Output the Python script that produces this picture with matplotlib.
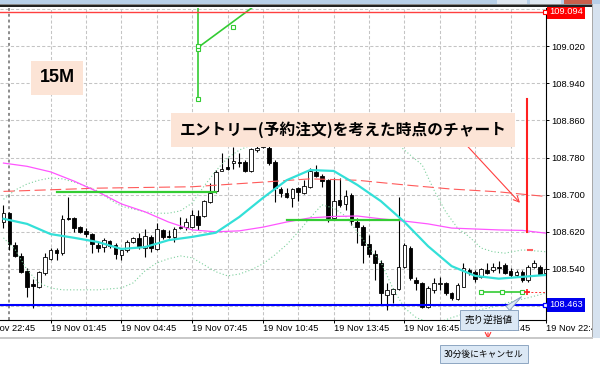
import matplotlib
matplotlib.use("Agg")
import matplotlib.pyplot as plt
import numpy as np
from matplotlib.patches import Rectangle
from matplotlib.transforms import blended_transform_factory

plt.rcParams['font.family'] = ['Liberation Sans', 'DejaVu Sans']
JP = ['Noto Sans CJK JP', 'DejaVu Sans']

# 15 minute candles, bar 0 = 19 Nov 01:45, first visible bar is -8
first_bar = -8
opens = [108.641, 108.660, 108.592, 108.568, 108.536, 108.508, 108.501, 108.531,
         108.562, 108.581, 108.574, 108.650, 108.650, 108.630, 108.622, 108.615,
         108.592, 108.587, 108.600, 108.592, 108.570, 108.581, 108.598, 108.607,
         108.585, 108.609, 108.583, 108.624, 108.611, 108.609, 108.628, 108.630,
         108.630, 108.654, 108.654, 108.684, 108.708, 108.751, 108.759, 108.768,
         108.770, 108.770, 108.751, 108.796, 108.802, 108.800, 108.770, 108.712,
         108.703, 108.693, 108.714, 108.703, 108.716, 108.749, 108.740, 108.731,
         108.650, 108.688, 108.680, 108.699, 108.641, 108.630, 108.594, 108.572,
         108.553, 108.484, 108.486, 108.497, 108.544, 108.585, 108.516, 108.510,
         108.458, 108.495, 108.508, 108.510, 108.488, 108.476, 108.501, 108.538,
         108.534, 108.523, 108.538, 108.538, 108.544, 108.549, 108.536, 108.527,
         108.534, 108.516, 108.544, 108.544, 108.531]
highs = [108.678, 108.663, 108.598, 108.574, 108.542, 108.519, 108.536, 108.574,
         108.585, 108.585, 108.656, 108.695, 108.652, 108.632, 108.628, 108.617,
         108.598, 108.607, 108.602, 108.596, 108.585, 108.602, 108.609, 108.617,
         108.626, 108.613, 108.639, 108.626, 108.624, 108.630, 108.652, 108.650,
         108.667, 108.667, 108.688, 108.725, 108.753, 108.789, 108.779, 108.802,
         108.789, 108.774, 108.800, 108.804, 108.828, 108.804, 108.774, 108.716,
         108.714, 108.714, 108.716, 108.731, 108.757, 108.764, 108.744, 108.734,
         108.736, 108.736, 108.710, 108.703, 108.650, 108.635, 108.613, 108.581,
         108.559, 108.510, 108.499, 108.695, 108.596, 108.589, 108.523, 108.512,
         108.503, 108.521, 108.523, 108.512, 108.491, 108.510, 108.553, 108.542,
         108.538, 108.542, 108.553, 108.553, 108.557, 108.553, 108.542, 108.538,
         108.538, 108.549, 108.559, 108.549, 108.544]
lows = [108.628, 108.581, 108.566, 108.531, 108.480, 108.456, 108.499, 108.527,
        108.559, 108.559, 108.570, 108.645, 108.620, 108.617, 108.609, 108.574,
        108.577, 108.577, 108.585, 108.562, 108.559, 108.577, 108.596, 108.583,
        108.566, 108.577, 108.581, 108.605, 108.607, 108.598, 108.626, 108.624,
        108.628, 108.624, 108.652, 108.682, 108.703, 108.751, 108.753, 108.755,
        108.759, 108.749, 108.749, 108.792, 108.800, 108.764, 108.684, 108.695,
        108.693, 108.673, 108.686, 108.701, 108.714, 108.738, 108.716, 108.641,
        108.645, 108.673, 108.667, 108.635, 108.596, 108.553, 108.566, 108.516,
        108.463, 108.452, 108.467, 108.495, 108.542, 108.516, 108.495, 108.456,
        108.456, 108.488, 108.495, 108.484, 108.473, 108.473, 108.501, 108.527,
        108.512, 108.521, 108.529, 108.534, 108.531, 108.529, 108.523, 108.523,
        108.512, 108.512, 108.542, 108.527, 108.527]
closes = [108.660, 108.594, 108.568, 108.534, 108.501, 108.503, 108.534, 108.566,
          108.581, 108.574, 108.648, 108.648, 108.628, 108.620, 108.615, 108.594,
          108.585, 108.602, 108.589, 108.572, 108.581, 108.598, 108.607, 108.587,
          108.611, 108.585, 108.626, 108.609, 108.609, 108.626, 108.630, 108.641,
          108.656, 108.635, 108.686, 108.703, 108.749, 108.755, 108.755, 108.772,
          108.768, 108.751, 108.798, 108.800, 108.815, 108.768, 108.714, 108.703,
          108.695, 108.712, 108.706, 108.718, 108.751, 108.740, 108.729, 108.650,
          108.686, 108.678, 108.697, 108.643, 108.630, 108.592, 108.572, 108.553,
          108.488, 108.495, 108.497, 108.544, 108.592, 108.521, 108.510, 108.458,
          108.499, 108.510, 108.510, 108.488, 108.478, 108.506, 108.542, 108.531,
          108.519, 108.540, 108.531, 108.544, 108.542, 108.531, 108.527, 108.534,
          108.516, 108.544, 108.553, 108.529, 108.540]

# moving averages, read every 4 bars
ma_bars = list(range(-8, 85, 4))
ma_fast = [108.648, 108.637, 108.615, 108.607, 108.598, 108.583, 108.587, 108.602,
           108.609, 108.618, 108.652, 108.693, 108.731, 108.753, 108.751, 108.721,
           108.686, 108.641, 108.589, 108.546, 108.525, 108.519, 108.523, 108.527]
ma_slow = [108.768, 108.761, 108.749, 108.729, 108.706, 108.680, 108.663, 108.641,
           108.624, 108.620, 108.622, 108.630, 108.641, 108.650, 108.653, 108.654,
           108.648, 108.643, 108.637, 108.628, 108.626, 108.624, 108.623, 108.617]
h1_bars = [-8, 8, 24, 36, 44, 52, 60, 68, 76, 84]
h1_ma = [108.707, 108.714, 108.717, 108.727, 108.734, 108.731, 108.721, 108.712, 108.706, 108.696]

# bollinger bands
up_bars = [-8, -6, -4, -2, 0, 2, 4, 6, 8, 10, 12, 14, 16, 18, 20, 22, 24, 26, 28, 30,
           32, 34, 38, 44, 50, 56, 59, 61, 63, 65, 67, 69, 71, 73, 75, 77, 80, 84]
bb_upper = [108.690, 108.710, 108.723, 108.731, 108.736, 108.734, 108.727, 108.718,
            108.708, 108.690, 108.675, 108.669, 108.663, 108.660, 108.660, 108.665,
            108.682, 108.718, 108.751, 108.779, 108.796, 108.807, 108.822, 108.832,
            108.828, 108.815, 108.807, 108.785, 108.764, 108.710, 108.663, 108.628,
            108.609, 108.585, 108.577, 108.574, 108.581, 108.577]
lo_bars = [-8, -6, -4, -2, 0, 2, 4, 6, 8, 10, 12, 14, 16, 18, 20, 22, 24, 26, 28, 30,
           32, 34, 36, 38, 40, 42, 44, 46, 48, 50, 52, 54, 56, 58, 60, 62, 64, 66, 68,
           70, 72, 75, 78, 81, 84]
bb_lower = [108.607, 108.581, 108.538, 108.510, 108.499, 108.495, 108.495, 108.495,
            108.495, 108.497, 108.499, 108.510, 108.536, 108.553, 108.562, 108.568,
            108.564, 108.549, 108.534, 108.525, 108.529, 108.538, 108.551, 108.570,
            108.592, 108.620, 108.650, 108.678, 108.671, 108.654, 108.620, 108.585,
            108.555, 108.499, 108.456, 108.435, 108.426, 108.426, 108.435, 108.443,
            108.450, 108.458, 108.469, 108.478, 108.488]

# drawn objects
support_a = ([1, 28], 108.706)
support_b = ([40, 59], 108.645)
stop_line = ([73, 76.5, 80], 108.491)
resist_price = 109.094
bottom_price = 108.463

label_bars = [-12, 0, 12, 24, 36, 48, 60, 72, 84]
label_text = ['18 Nov 22:45', '19 Nov 01:45', '19 Nov 04:45', '19 Nov 07:45',
              '19 Nov 10:45', '19 Nov 13:45', '19 Nov 16:45', '19 Nov 19:45',
              '19 Nov 22:45']
price_ticks = [109.100, 109.020, 108.940, 108.860, 108.780, 108.700, 108.620, 108.540, 108.460]

fig = plt.figure(figsize=(6, 3.65), dpi=100)
ax = fig.add_axes([0, 45 / 365, 546 / 600, 312 / 365])
ax.set_xlim(-8.59, 83.96)
ax.set_ylim(108.430, 109.102)

# grid
for p in price_ticks:
    ax.axhline(p, color='#c4c4c4', lw=0.75, ls=(0, (3, 2)), zorder=0.5)
for b in range(0, 85, 6):
    ax.axvline(b, color='#c4c4c4', lw=0.75, ls=(0, (3, 2)), zorder=0.5)
ax.axvline(-7, color='#8c8c8c', lw=1.4, ls=(0, (1.5, 1.5)), zorder=0.6)

# candles
bars = np.arange(first_bar, first_bar + len(opens))
o = np.array(opens); c = np.array(closes)
ax.vlines(bars, lows, highs, color='black', lw=0.8, zorder=3)
bull = c >= o
body = np.maximum(np.abs(c - o), 0.0012)
ax.bar(bars, body, bottom=np.minimum(o, c), width=0.62,
       color=np.where(bull, 'white', 'black'), edgecolor='black', linewidth=0.6, zorder=4)

# indicators
ax.plot(up_bars, bb_upper, color='#7ccf9c', lw=0.8, ls=(0, (1, 2)), zorder=5)
ax.plot(lo_bars, bb_lower, color='#7ccf9c', lw=0.8, ls=(0, (1, 2)), zorder=5)
ax.plot(h1_bars, h1_ma, color='#ff5a5a', lw=0.8, ls=(0, (10, 4)), zorder=5)
ax.plot(ma_bars, ma_slow, color='#ff55ff', lw=0.9, zorder=5)
ax.plot(ma_bars, ma_fast, color='#33e0d8', lw=1.6, zorder=6)

# lines drawn on the chart
green = '#33cc33'
ax.plot(support_a[0], [support_a[1]] * 2, color=green, lw=1.6, zorder=7)
ax.plot(support_b[0], [support_b[1]] * 2, color=green, lw=1.6, zorder=7)
ax.plot(stop_line[0], [stop_line[1]] * 3, color=green, lw=1.2, marker='s', ms=3,
        mfc='white', mec=green, mew=0.8, zorder=7)
ax.plot([80.8, 83.8], [stop_line[1]] * 2, color='#ff3030', lw=0.7, ls=(0, (2, 2)), zorder=7)
ax.plot([80.8], [stop_line[1]], marker='+', color='#ff2020', ms=4, mew=1.2, zorder=8)
ax.plot([25, 25], [108.905, 109.12], color=green, lw=1.2, zorder=7)
ax.plot([25, 36], [109.017, 109.12], color=green, lw=1.2, zorder=7)
ax.plot([25, 25, 25, 31], [108.905, 109.013, 109.020, 109.062], ls='none', marker='s', ms=3,
        mfc='white', mec=green, mew=0.8, zorder=8)

ax.axhline(resist_price, color='#ff4040', lw=1.0, zorder=7)
ax.axhline(bottom_price, color='#0000ff', lw=1.5, zorder=7)
ax.plot([83.8], [resist_price], marker='s', ms=3, mfc='white', mec='red', mew=0.8, zorder=8)
ax.plot([83.8], [bottom_price], marker='s', ms=3.5, mfc='white', mec='blue', mew=0.9, zorder=8)

ax.plot([80.85, 80.85], [108.620, 108.905], color='#ff2020', lw=1.5, zorder=8)
ax.plot([81.0, 81.6], [108.581, 108.581], color='#ff6060', lw=1.5, zorder=8)
ax.annotate('', xy=(79.9, 108.678), xytext=(70.2, 108.811),
            arrowprops=dict(arrowstyle='->', color='#ff4040', lw=0.8), zorder=8)

# axes
for s in ['left', 'top']:
    ax.spines[s].set_visible(False)
for s in ['right', 'bottom']:
    ax.spines[s].set_linewidth(0.8)
ax.yaxis.tick_right()
ax.set_yticks(price_ticks)
ax.set_yticklabels([''] + ['%.3f' % p for p in price_ticks[1:-1]] + [''])
ax.tick_params(axis='y', labelsize=6.7, length=2.5, width=0.7, pad=1.5)
ax.set_xticks([b for b in label_bars if b >= 0])
ax.set_xticklabels([])
ax.tick_params(axis='x', length=2.5, width=0.7)
for b, t in zip(label_bars, label_text):
    ax.annotate(t, xy=(b, 0), xycoords=('data', 'axes fraction'), xytext=(0, -3),
                textcoords='offset points', ha='left', va='top', fontsize=6.7,
                annotation_clip=False)

tr = blended_transform_factory(ax.transAxes, ax.transData)
ax.text(1.0055, resist_price, '%.3f' % resist_price, transform=tr, color='white',
        fontsize=6.7, va='center', ha='left', clip_on=False, zorder=20,
        bbox=dict(boxstyle='square,pad=0.25', fc='#ff0000', ec='none'))
ax.text(1.0055, bottom_price, '%.3f' % bottom_price, transform=tr, color='white',
        fontsize=6.7, va='center', ha='left', clip_on=False, zorder=20,
        bbox=dict(boxstyle='square,pad=0.25', fc='#0000ee', ec='none'))

# labels on the picture
fig.text(343 / 600, 1 - 130 / 365, 'エントリー(予約注文)を考えた時点のチャート', family=JP,
         fontsize=11.3, fontweight='bold', ha='center', va='center',
         bbox=dict(boxstyle='square,pad=0.55', fc='#fce4d6', ec='none'))
fig.text(57 / 600, 1 - 78 / 365, '15M', fontsize=13, fontweight='bold', ha='center', va='center',
         bbox=dict(boxstyle='square,pad=0.45', fc='#fce4d6', ec='none'))

ax.annotate('売り逆指値', xy=(80.2, 108.484), xytext=(489, 45), textcoords='figure pixels',
            family=JP, fontsize=6.9, ha='center', va='center', annotation_clip=False, zorder=30,
            bbox=dict(boxstyle='square,pad=0.5', fc='#dbe8f5', ec='#8ea6c2', lw=0.7),
            arrowprops=dict(arrowstyle='wedge,tail_width=0.6', fc='#dbe8f5', ec='#8ea6c2',
                            lw=0.7, relpos=(0.72, 1.0)))


def frect(x0, y0, x1, y1, **kw):
    fig.add_artist(Rectangle((x0 / 600, 1 - y1 / 365), (x1 - x0) / 600, (y1 - y0) / 365,
                             transform=fig.transFigure, lw=0, **kw))


# window frame
frect(0, 0, 600, 4, fc='#b7cfe8')
frect(0, 4, 593, 5, fc='#8a8a8a')
frect(0, 5, 593, 7, fc='#222222')
frect(497, 0, 527, 3.5, fc='#dfe7f1')
frect(530, 0, 561, 3.5, fc='#dfe7f1')
frect(564, 0, 592, 3.5, fc='#c8604c')
frect(592, 4, 600, 338, fc='#d6e2ef')
frect(592, 4, 593, 338, fc='#a9a9a9')
frect(0, 337, 593, 339, fc='#c9c9c9')

fig.text(484 / 600, 1 - 354 / 365, '30分後にキャンセル', family=JP, fontsize=6.3,
         ha='center', va='center',
         bbox=dict(boxstyle='square,pad=0.5', fc='#dbe8f5', ec='#8ea6c2', lw=0.7))
ax.annotate('', xy=(488, 23), xycoords='figure pixels', xytext=(488, 35),
            textcoords='figure pixels', annotation_clip=False,
            arrowprops=dict(arrowstyle='->', color='#ff3030', lw=0.8))

fig.savefig('out.png', dpi=100)
